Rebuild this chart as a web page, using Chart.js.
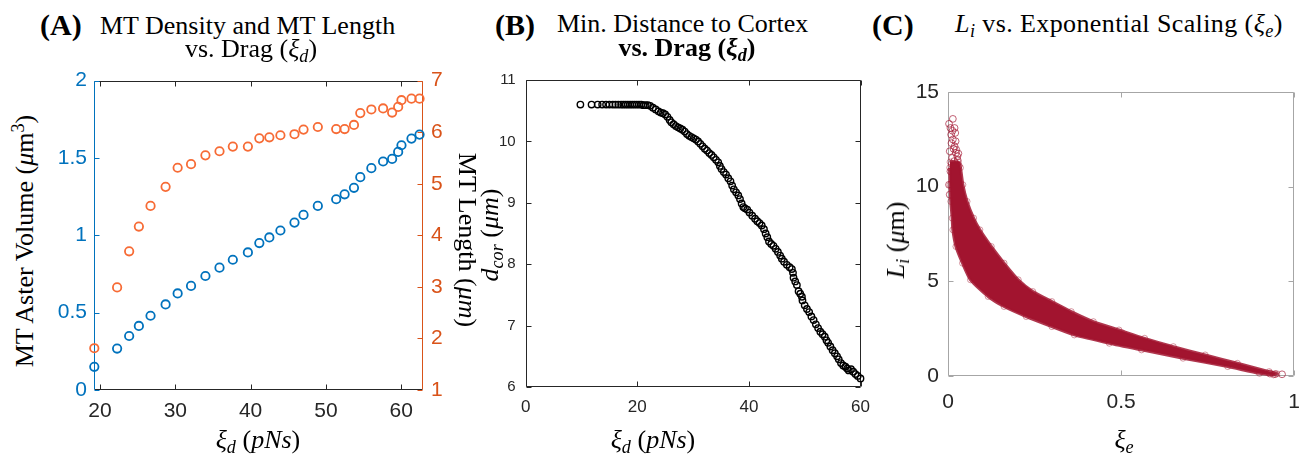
<!DOCTYPE html>
<html>
<head>
<meta charset="utf-8">
<script src="https://cdn.jsdelivr.net/npm/chart.js@4.4.1/dist/chart.umd.min.js"></script>
<style>
  body { margin: 0; background: #fff; }
  #page { position: relative; width: 1314px; height: 458px; overflow: hidden; background: #fff; }
  canvas { position: absolute; }
  .t { position: absolute; font-family: 'Liberation Serif', 'Times New Roman', serif; font-size: 26px; line-height: 26px; white-space: nowrap; color: #000; }
  .tag { font-weight: bold; font-size: 30px; line-height: 30px; }
  .c { transform: translateX(-50%); }
  .rl { transform: translate(-50%, -50%) rotate(-90deg); }
  .rr { transform: translate(-50%, -50%) rotate(90deg); }
  sub { font-size: 70%; vertical-align: -0.28em; line-height: 0; }
  sup { font-size: 70%; vertical-align: 0.5em; line-height: 0; }
</style>
</head>
<body>
<div id="page">
  <canvas id="chartA" width="440" height="398" style="left:40px;top:60px"></canvas>
  <canvas id="chartB" width="400" height="398" style="left:480px;top:60px"></canvas>
  <canvas id="chartC" width="434" height="388" style="left:880px;top:70px"></canvas>

  <div class="t tag" style="left:40px;top:10px">(A)</div>
  <div class="t" style="left:100px;top:13px">MT Density and MT Length</div>
  <div class="t c" style="left:251px;top:36px">vs. Drag (<i>ξ</i><sub><i>d</i></sub>)</div>
  <div class="t c" style="left:258px;top:427px"><i>ξ</i><sub><i>d</i></sub> (<i>pNs</i>)</div>
  <div class="t rl" style="left:25px;top:241px">MT Aster Volume (<i>μ</i>m<sup>3</sup>)</div>
  <div class="t rr" style="left:467px;top:240px">MT Length (<i>μm</i>)</div>

  <div class="t tag" style="left:495px;top:10px">(B)</div>
  <div class="t" style="left:557px;top:11px">Min. Distance to Cortex</div>
  <div class="t c" style="left:687px;top:35px;font-weight:bold">vs. Drag (<i>ξ</i><sub><i>d</i></sub>)</div>
  <div class="t c" style="left:653px;top:427px"><i>ξ</i><sub><i>d</i></sub> (<i>pNs</i>)</div>
  <div class="t rl" style="left:490px;top:235px"><i>d</i><sub><i>cor</i></sub> (<i>μm</i>)</div>

  <div class="t tag" style="left:872px;top:10px">(C)</div>
  <div class="t" style="left:955px;top:11px;letter-spacing:0.4px"><i>L</i><sub><i>i</i></sub> vs. Exponential Scaling (<i>ξ</i><sub><i>e</i></sub>)</div>
  <div class="t c" style="left:1124px;top:427px"><i>ξ</i><sub><i>e</i></sub></div>
  <div class="t rl" style="left:896px;top:240px"><i>L</i><sub><i>i</i></sub> (<i>μ</i>m)</div>
</div>

<script>
// (A) MT aster volume and MT length vs drag
const aDrag = [19.24, 22.27, 23.87, 25.16, 26.71, 28.71, 30.31, 32.09, 34.0, 35.87, 37.64, 39.64, 41.16, 42.49,
  43.96, 45.83, 47.03, 48.93, 51.37, 52.49, 53.73, 54.57, 56.04, 57.6, 58.8, 59.6, 60.04, 61.37, 62.44];
const aVolume = [0.15, 0.268, 0.349, 0.414, 0.48, 0.553, 0.624, 0.673, 0.737, 0.791, 0.842, 0.889, 0.95, 0.986,
  1.031, 1.082, 1.132, 1.19, 1.233, 1.265, 1.307, 1.376, 1.434, 1.477, 1.494, 1.539, 1.582, 1.625, 1.651];
const aLength = [1.81, 2.99, 3.69, 4.17, 4.57, 4.94, 5.31, 5.38, 5.55, 5.63, 5.72, 5.72, 5.88, 5.9,
  5.94, 5.96, 6.05, 6.1, 6.06, 6.06, 6.14, 6.37, 6.44, 6.46, 6.38, 6.49, 6.62, 6.65, 6.65];
const aDragTicks = [20, 30, 40, 50, 60];
const aVolumeTicks = [0, 0.5, 1, 1.5, 2];
const aLengthTicks = [1, 2, 3, 4, 5, 6, 7];

// (B) min distance to cortex vs drag
const bDrag = [9.8, 11.8, 12.9, 13.7, 14.4, 15.0, 15.6, 16.1, 16.6, 17.1, 17.5, 17.9, 18.3, 18.7, 19.1, 19.5,
  19.9, 20.3, 20.7, 21.1, 21.5, 21.9, 22.3, 22.8, 23.3, 23.8, 24.2, 24.6, 25.0, 25.4, 25.8, 26.1, 26.5, 26.9,
  27.3, 27.7, 28.1, 28.5, 28.9, 29.3, 29.7, 30.1, 30.5, 30.9, 31.3, 31.7, 32.1, 32.5, 32.9, 33.3, 33.7, 34.1,
  34.5, 34.8, 35.1, 35.5, 35.9, 36.3, 36.7, 37.0, 37.3, 37.7, 38.1, 38.4, 38.7, 39.0, 39.3, 39.7, 40.1, 40.6,
  41.1, 41.5, 41.9, 42.3, 42.7, 43.0, 43.3, 43.6, 44.0, 44.4, 44.8, 45.2, 45.6, 45.9, 46.3, 46.8, 47.3, 47.7,
  47.9, 48.0, 48.3, 48.6, 48.9, 49.2, 49.5, 49.6, 50.0, 50.4, 50.8, 51.2, 51.6, 52.0, 52.4, 52.8, 53.2, 53.6,
  53.9, 54.2, 54.6, 55.0, 55.4, 55.8, 56.1, 56.5, 56.9, 57.3, 57.6, 57.9, 58.3, 58.7, 59.1, 59.5, 60.0];
const bDist = [10.6, 10.6, 10.6, 10.6, 10.6, 10.6, 10.6, 10.6, 10.6, 10.6, 10.6, 10.6, 10.6, 10.6, 10.6, 10.6,
  10.6, 10.6, 10.6, 10.59, 10.59, 10.59, 10.58, 10.55, 10.52, 10.49, 10.47, 10.46, 10.44, 10.4, 10.35, 10.31, 10.28, 10.25,
  10.23, 10.21, 10.19, 10.16, 10.12, 10.09, 10.07, 10.05, 10.03, 10.0, 9.96, 9.92, 9.88, 9.85, 9.81, 9.78, 9.74, 9.7,
  9.66, 9.6, 9.55, 9.5, 9.46, 9.4, 9.35, 9.28, 9.22, 9.17, 9.12, 9.06, 8.99, 8.93, 8.91, 8.89, 8.84, 8.79,
  8.74, 8.7, 8.67, 8.63, 8.57, 8.5, 8.44, 8.37, 8.33, 8.3, 8.25, 8.2, 8.14, 8.09, 8.04, 7.99, 7.95, 7.92,
  7.86, 7.78, 7.72, 7.66, 7.56, 7.52, 7.47, 7.41, 7.33, 7.27, 7.22, 7.15, 7.09, 7.02, 6.96, 6.9, 6.86, 6.82,
  6.76, 6.72, 6.66, 6.6, 6.55, 6.5, 6.45, 6.39, 6.35, 6.33, 6.3, 6.27, 6.29, 6.25, 6.21, 6.18, 6.14];
const bDragTicks = [0, 20, 40, 60];
const bDistTicks = [6, 7, 8, 9, 10, 11];

// (C) L_i vs exponential scaling: outline of the dense cloud plus the loose points
const cBandXi = [0.006, 0.030, 0.036, 0.043, 0.055, 0.074, 0.092, 0.125, 0.162, 0.203, 0.245, 0.300, 0.356, 0.420,
  0.494, 0.568, 0.651, 0.743, 0.836, 0.928, 0.950, 0.940, 0.900, 0.808, 0.679, 0.559, 0.466, 0.365, 0.300, 0.226,
  0.162, 0.116, 0.065, 0.042, 0.023, 0.014, 0.012, 0.008, 0.006, 0.005];
const cBandLen = [11.3, 11.3, 11.0, 10.1, 9.22, 8.34, 7.72, 6.84, 5.96, 5.08, 4.46, 3.93, 3.40, 2.87,
  2.43, 1.99, 1.55, 1.11, 0.67, 0.23, 0.12, 0.06, 0.14, 0.50, 0.94, 1.38, 1.73, 2.17, 2.61, 3.14,
  3.67, 4.20, 5.08, 5.96, 6.84, 7.72, 8.34, 9.22, 10.1, 11.0];
const cLooseXi = [0.014, 0.003, 0.007, 0.019, 0.021, 0.009, 0.014, 0.005, 0.019, 0.012, 0.023, 0.007, 0.025,
  0.003, 0.005, 0.028, 0.031, 0.010, 0.016, 0.022, 0.027, 0.011, 0.018, 0.024, 0.030, 0.013,
  0.93, 0.945, 0.965];
const cLooseLen = [13.58, 13.32, 13.1, 13.1, 12.84, 12.75, 12.49, 11.87, 12.13, 11.52, 11.78, 10.81, 11.16,
  10.1, 9.58, 11.4, 11.1, 12.3, 12.0, 12.4, 11.6, 11.2, 11.35, 11.95, 11.75, 12.95,
  0.13, 0.1, 0.09];
const cXiTicks = [0, 0.5, 1];
const cLenTicks = [0, 5, 10, 15];

const BLUE = '#0072BD', ORANGE = '#D95319', ORANGE_PT = '#F76B35', RED = '#A2142F';
const SANS = "'Liberation Sans', Arial, sans-serif";
const TICK = 5;

function pts(xs, ys) {
  return xs.map((x, i) => ({ x: x, y: ys[i] }));
}

// box lines and inward tick marks, matlab style
function framePlugin(sides) {
  return {
    id: 'frame',
    beforeDatasetsDraw(chart) {
      const ctx = chart.ctx, a = chart.chartArea;
      const l = Math.round(a.left) + 0.5, r = Math.round(a.right) - 0.5;
      const t = Math.round(a.top) + 0.5, b = Math.round(a.bottom) - 0.5;
      ctx.save();
      ctx.lineWidth = 1;
      sides.forEach(s => {
        ctx.strokeStyle = s.color;
        ctx.beginPath();
        if (s.side === 'left') { ctx.moveTo(l, t); ctx.lineTo(l, b); }
        if (s.side === 'right') { ctx.moveTo(r, t); ctx.lineTo(r, b); }
        if (s.side === 'top') { ctx.moveTo(l, t); ctx.lineTo(r, t); }
        if (s.side === 'bottom') { ctx.moveTo(l, b); ctx.lineTo(r, b); }
        const sc = chart.scales[s.scale];
        sc.ticks.forEach(tk => {
          const p = Math.round(sc.getPixelForValue(tk.value)) + 0.5;
          if (s.side === 'left') { ctx.moveTo(l, p); ctx.lineTo(l + TICK, p); }
          if (s.side === 'right') { ctx.moveTo(r, p); ctx.lineTo(r - TICK, p); }
          if (s.side === 'top') { ctx.moveTo(p, t); ctx.lineTo(p, t + TICK); }
          if (s.side === 'bottom') { ctx.moveTo(p, b); ctx.lineTo(p, b - TICK); }
        });
        ctx.stroke();
      });
      ctx.restore();
    }
  };
}

function scale(position, min, max, ticks, size, color, fontSize, pad) {
  const horiz = position === 'bottom';
  return {
    type: 'linear',
    position: position,
    min: min,
    max: max,
    grid: { display: false, drawTicks: false },
    border: { display: false },
    ticks: { color: color, font: { family: SANS, size: fontSize }, padding: pad, maxRotation: 0,
      callback: v => String(v) },
    afterBuildTicks: s => { s.ticks = ticks.map(v => ({ value: v })); },
    afterFit: s => { if (horiz) s.height = size; else s.width = size; }
  };
}

const base = {
  responsive: false,
  animation: false,
  devicePixelRatio: 1,
  plugins: { legend: { display: false }, tooltip: { enabled: false } }
};

new Chart(document.getElementById('chartA'), {
  type: 'scatter',
  data: {
    datasets: [
      { data: pts(aDrag, aVolume), yAxisID: 'yL', pointStyle: 'circle', pointRadius: 4.2,
        borderColor: BLUE, backgroundColor: 'rgba(0,0,0,0)', borderWidth: 1.8, clip: false },
      { data: pts(aDrag, aLength), yAxisID: 'yR', pointStyle: 'circle', pointRadius: 4.2,
        borderColor: ORANGE_PT, backgroundColor: 'rgba(0,0,0,0)', borderWidth: 1.8, clip: false }
    ]
  },
  options: Object.assign({}, base, {
    layout: { padding: { top: 19, left: 0, right: 0, bottom: 0 } },
    scales: {
      x: scale('bottom', 19.2, 62.9, aDragTicks, 68, '#262626', 21, 9),
      yL: scale('left', 0, 2, aVolumeTicks, 54, BLUE, 21, 7),
      yR: scale('right', 1, 7, aLengthTicks, 57, ORANGE, 21, 8)
    }
  }),
  plugins: [framePlugin([
    { side: 'bottom', scale: 'x', color: '#262626' },
    { side: 'top', scale: 'x', color: '#262626' },
    { side: 'left', scale: 'yL', color: BLUE },
    { side: 'right', scale: 'yR', color: ORANGE }
  ])]
});

new Chart(document.getElementById('chartB'), {
  type: 'scatter',
  data: {
    datasets: [
      { data: pts(bDrag, bDist), pointStyle: 'circle', pointRadius: 3.2,
        borderColor: '#000', backgroundColor: 'rgba(0,0,0,0)', borderWidth: 1.4, clip: false }
    ]
  },
  options: Object.assign({}, base, {
    layout: { padding: { top: 20, left: 0, right: 19.5, bottom: 0 } },
    scales: {
      x: scale('bottom', 0, 60, bDragTicks, 71, '#262626', 17, 10),
      y: scale('left', 6, 11, bDistTicks, 45.7, '#262626', 15, 10)
    }
  }),
  plugins: [framePlugin([
    { side: 'bottom', scale: 'x', color: '#262626' },
    { side: 'top', scale: 'x', color: '#262626' },
    { side: 'left', scale: 'y', color: '#262626' },
    { side: 'right', scale: 'y', color: '#262626' }
  ])]
});

new Chart(document.getElementById('chartC'), {
  type: 'scatter',
  data: {
    datasets: [
      { type: 'line', data: pts(cBandXi, cBandLen), fill: 'shape', tension: 0.2,
        backgroundColor: RED, borderColor: 'rgba(162,20,47,0.85)', borderWidth: 3,
        pointRadius: 3, pointBorderWidth: 0.8, pointBorderColor: 'rgba(162,20,47,0.55)',
        pointBackgroundColor: 'rgba(0,0,0,0)', clip: false },
      { data: pts(cLooseXi, cLooseLen), pointStyle: 'circle', pointRadius: 3.4,
        borderColor: 'rgba(162,20,47,0.75)', backgroundColor: 'rgba(0,0,0,0)', borderWidth: 0.9, clip: false }
    ]
  },
  options: Object.assign({}, base, {
    layout: { padding: { top: 22, left: 0, right: 5, bottom: 0 } },
    scales: {
      x: scale('bottom', 0, 1, cXiTicks, 82, '#262626', 21, 14),
      y: scale('left', 0, 15, cLenTicks, 68, '#262626', 21, 9)
    }
  }),
  plugins: [framePlugin([
    { side: 'bottom', scale: 'x', color: '#a6a6a6' },
    { side: 'top', scale: 'x', color: '#a6a6a6' },
    { side: 'left', scale: 'y', color: '#a6a6a6' },
    { side: 'right', scale: 'y', color: '#a6a6a6' }
  ])]
});
</script>
</body>
</html>
